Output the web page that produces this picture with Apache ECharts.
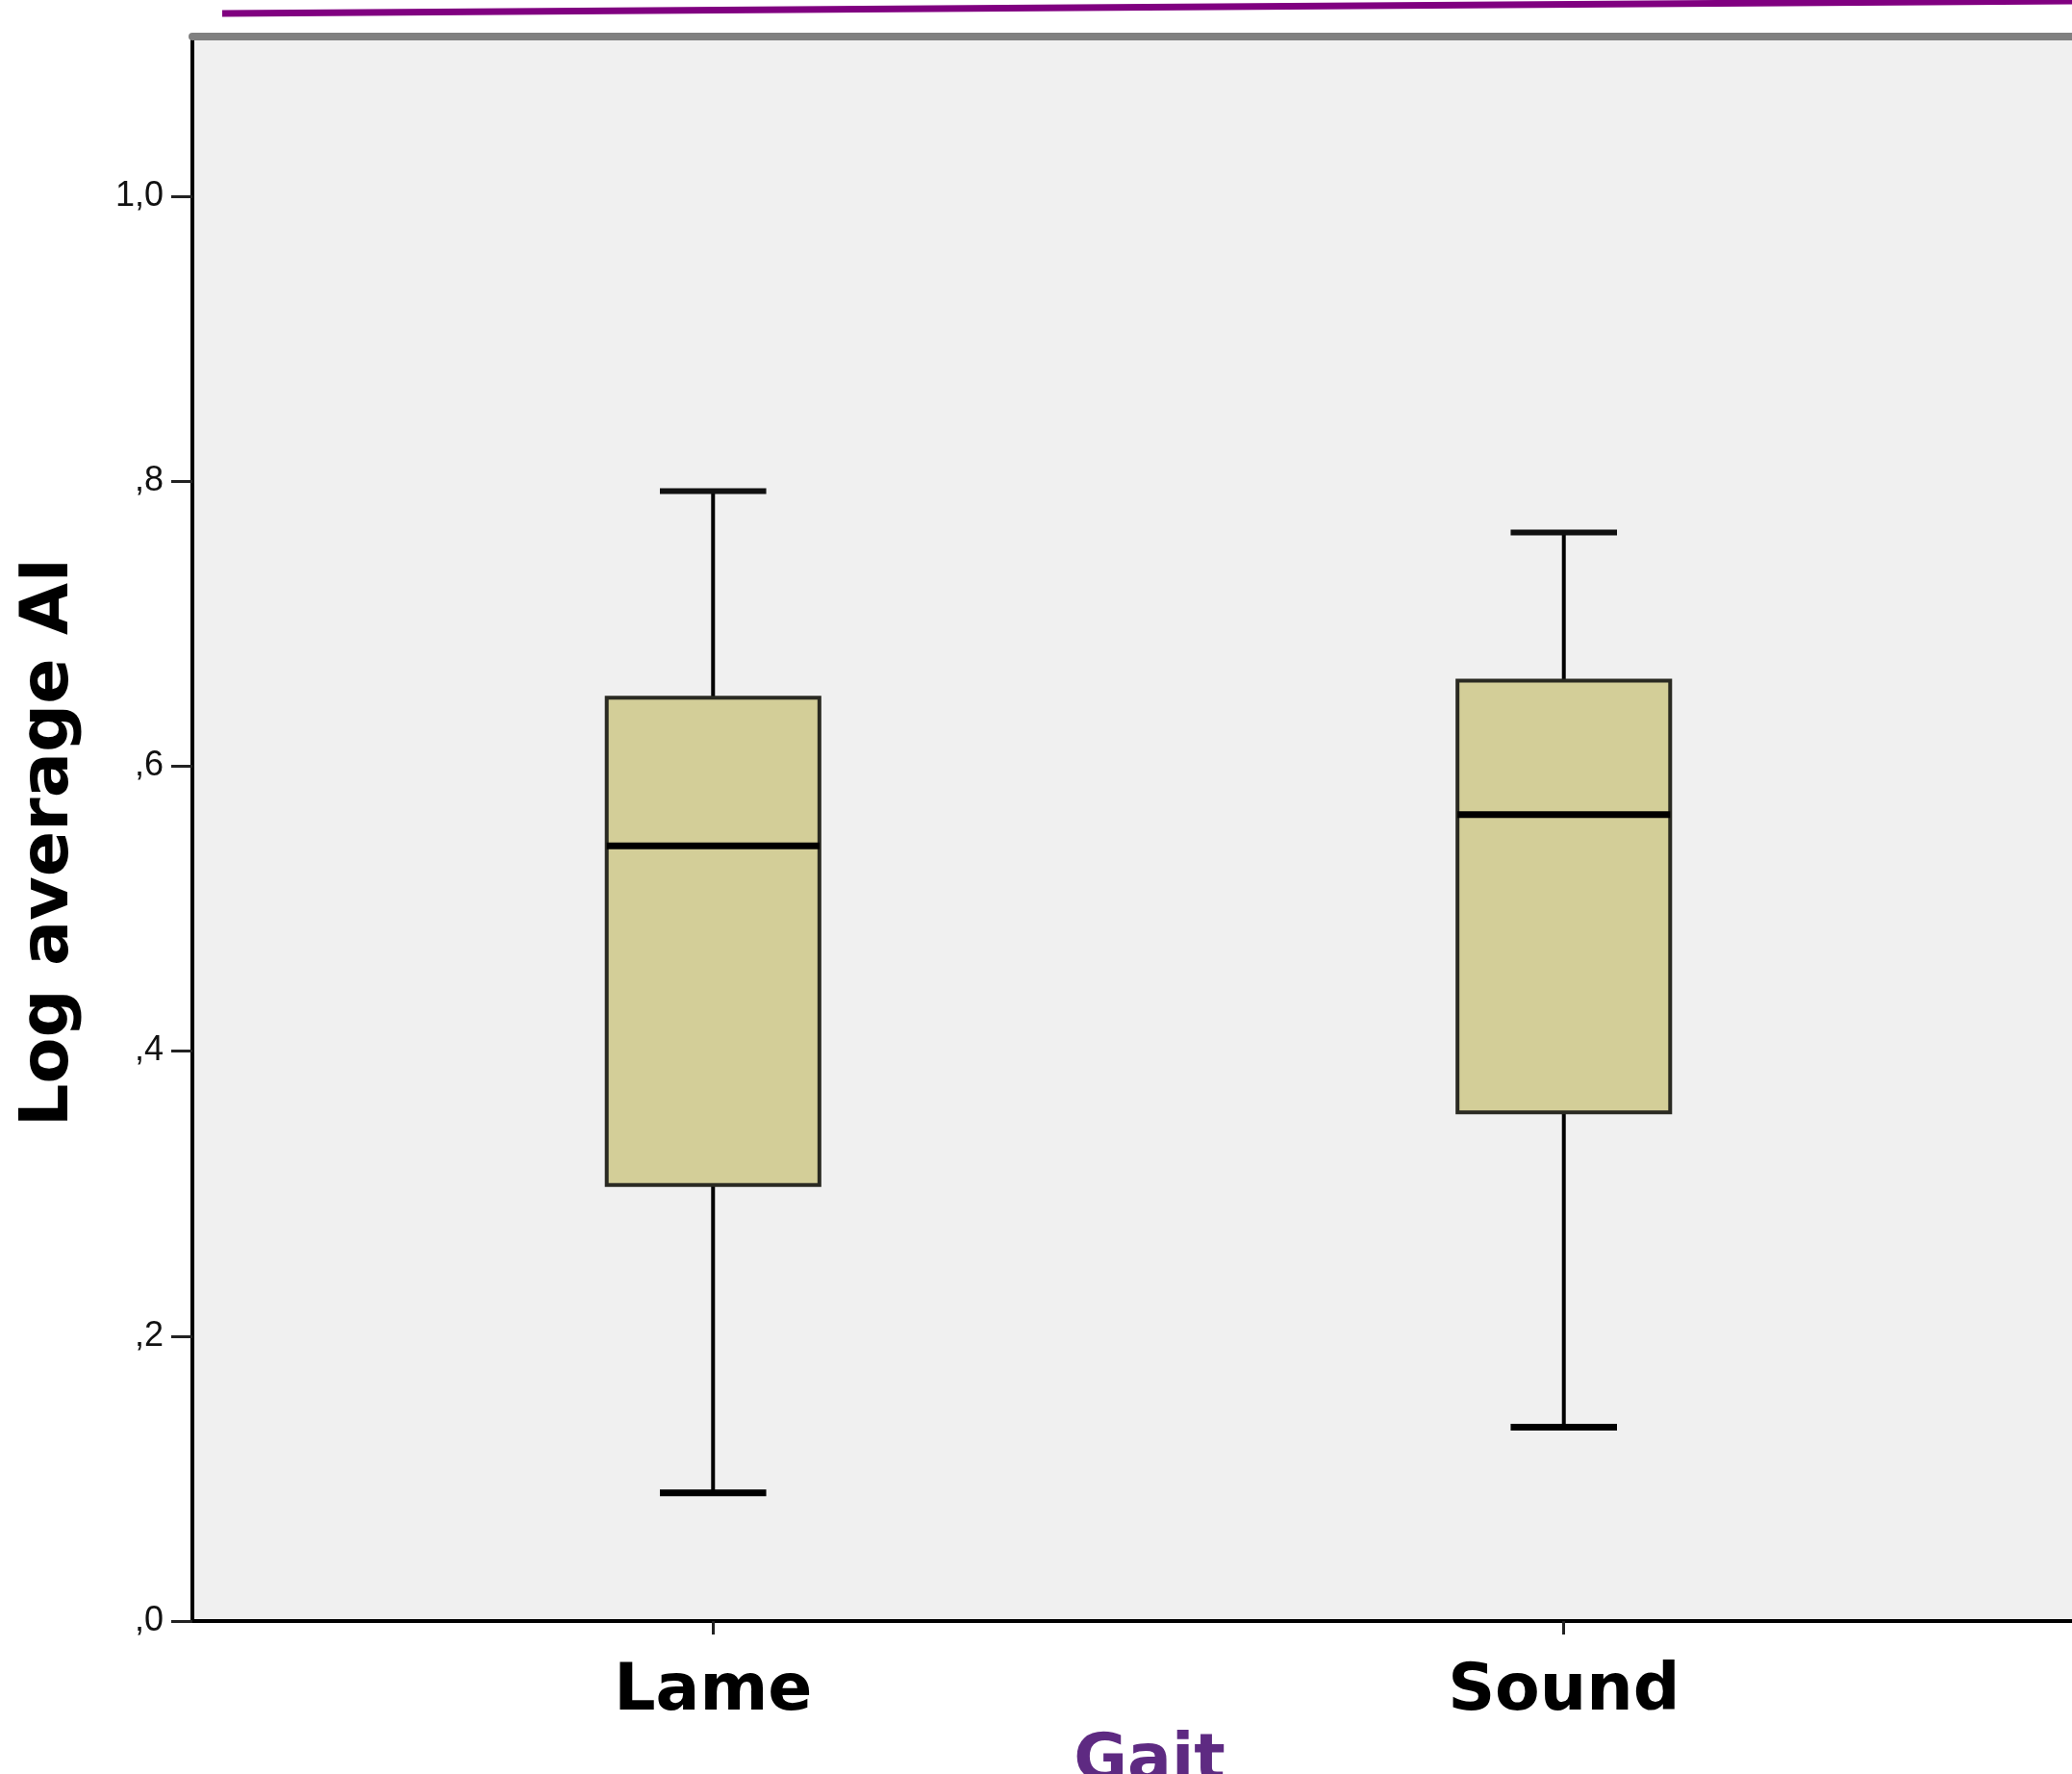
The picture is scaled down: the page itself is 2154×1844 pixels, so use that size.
<!DOCTYPE html>
<html>
<head>
<meta charset="utf-8">
<title>Log average AI by Gait</title>
<script src="https://cdn.jsdelivr.net/npm/echarts@6.0.0/dist/echarts.min.js"></script>
<style>
  html, body { margin: 0; padding: 0; background: #ffffff; }
  #chart { width: 2154px; height: 1844px; }
</style>
</head>
<body>
<div id="chart"></div>
<script>
// Groups and their five-number summaries (log average AI)
const categories = ['Lame', 'Sound'];
const categoryPositions = [1, 2];
const lowerWhisker = [0.090, 0.136];
const lowerQuartile = [0.306, 0.357];
const medianValue = [0.544, 0.566];
const upperQuartile = [0.648, 0.660];
const upperWhisker = [0.793, 0.764];

// Value axis ticks
const yTickValues = [0, 0.2, 0.4, 0.6, 0.8, 1.0];

// Visible range of the axes
const xRange = [0.388, 2.638];
const yRange = [0, 1.112];

const boxData = categories.map((c, i) => [
  categoryPositions[i],
  lowerWhisker[i], lowerQuartile[i], medianValue[i], upperQuartile[i], upperWhisker[i]
]);

// Decimal comma, no leading zero: 0.8 -> ",8", 1 -> "1,0"
function formatTick(v) {
  const s = (Math.round(v * 10) / 10).toFixed(1).replace('.', ',');
  return s.startsWith('0') ? s.slice(1) : s;
}

function renderBox(params, api) {
  const x = api.value(0);
  const lo = api.coord([x, api.value(1)]);
  const q1 = api.coord([x, api.value(2)]);
  const med = api.coord([x, api.value(3)]);
  const q3 = api.coord([x, api.value(4)]);
  const hi = api.coord([x, api.value(5)]);
  const cx = lo[0];
  const halfBox = api.size([0.125, 0])[0];
  const halfCap = halfBox / 2;
  const ink = '#000000';
  return {
    type: 'group',
    children: [
      { type: 'line', shape: { x1: cx, y1: q3[1], x2: cx, y2: hi[1] }, style: { stroke: ink, lineWidth: 4 } },
      { type: 'line', shape: { x1: cx, y1: q1[1], x2: cx, y2: lo[1] }, style: { stroke: ink, lineWidth: 4 } },
      { type: 'line', shape: { x1: cx - halfCap, y1: hi[1], x2: cx + halfCap, y2: hi[1] }, style: { stroke: '#111', lineWidth: 6 } },
      { type: 'line', shape: { x1: cx - halfCap, y1: lo[1], x2: cx + halfCap, y2: lo[1] }, style: { stroke: ink, lineWidth: 7 } },
      {
        type: 'rect',
        shape: { x: cx - halfBox, y: q3[1], width: halfBox * 2, height: q1[1] - q3[1] },
        style: { fill: '#D3CE98', stroke: '#2a2a22', lineWidth: 4 }
      },
      { type: 'line', shape: { x1: cx - halfBox, y1: med[1], x2: cx + halfBox, y2: med[1] }, style: { stroke: ink, lineWidth: 7 } }
    ]
  };
}

const chart = echarts.init(document.getElementById('chart'), null, { renderer: 'canvas' });

chart.setOption({
  backgroundColor: '#ffffff',
  animation: false,
  grid: {
    left: 200,
    top: 38,
    width: 1990,
    bottom: 159,
    outerBoundsMode: 'none',
    containLabel: false,
    show: true,
    backgroundColor: '#F0F0F0',
    borderWidth: 0
  },
  graphic: [
    {
      type: 'line',
      shape: { x1: 231, y1: 14, x2: 2154, y2: 1 },
      style: { stroke: '#800080', lineWidth: 7 },
      silent: true
    }
  ],
  xAxis: [
    {
      type: 'value',
      min: xRange[0],
      max: xRange[1],
      position: 'bottom',
      name: 'Gait',
      nameLocation: 'middle',
      nameGap: 104,
      nameTextStyle: {
        fontFamily: 'DejaVu Sans',
        fontWeight: 'bold',
        fontSize: 68,
        color: '#5E2A82'
      },
      axisLine: { show: true, onZero: false, lineStyle: { color: '#000', width: 4 } },
      axisTick: { show: true, customValues: categoryPositions, length: 14, lineStyle: { color: '#222', width: 3 } },
      axisLabel: {
        show: true,
        customValues: categoryPositions,
        formatter: v => categories[Math.round(v) - 1] || '',
        fontFamily: 'DejaVu Sans',
        fontWeight: 'bold',
        fontSize: 68,
        color: '#000',
        margin: 40
      },
      splitLine: { show: false }
    },
    {
      type: 'value',
      min: xRange[0],
      max: xRange[1],
      position: 'top',
      axisLine: { show: true, onZero: false, lineStyle: { color: '#808080', width: 8 } },
      axisTick: { show: false },
      axisLabel: { show: false },
      splitLine: { show: false }
    }
  ],
  yAxis: {
    type: 'value',
    min: yRange[0],
    max: yRange[1],
    name: 'Log average AI',
    nameLocation: 'middle',
    nameGap: 113,
    nameRotate: 90,
    nameTextStyle: {
      fontFamily: 'DejaVu Sans',
      fontWeight: 'bold',
      fontSize: 70,
      color: '#000',
      padding: [0, 28, 0, 0]
    },
    axisLine: { show: true, onZero: false, lineStyle: { color: '#000', width: 4 } },
    axisTick: { show: true, customValues: yTickValues, length: 22, lineStyle: { color: '#222', width: 3 } },
    axisLabel: {
      show: true,
      customValues: yTickValues,
      formatter: formatTick,
      fontFamily: 'Liberation Sans Narrow, Liberation Sans, Arial Narrow, sans-serif',
      fontSize: 36,
      color: '#111',
      margin: 30,
      padding: [8, 0, 0, 0]
    },
    splitLine: { show: false }
  },
  series: [
    {
      type: 'custom',
      xAxisIndex: 0,
      yAxisIndex: 0,
      renderItem: renderBox,
      encode: { x: 0, y: [1, 2, 3, 4, 5] },
      data: boxData,
      clip: false
    }
  ]
});
</script>
</body>
</html>
